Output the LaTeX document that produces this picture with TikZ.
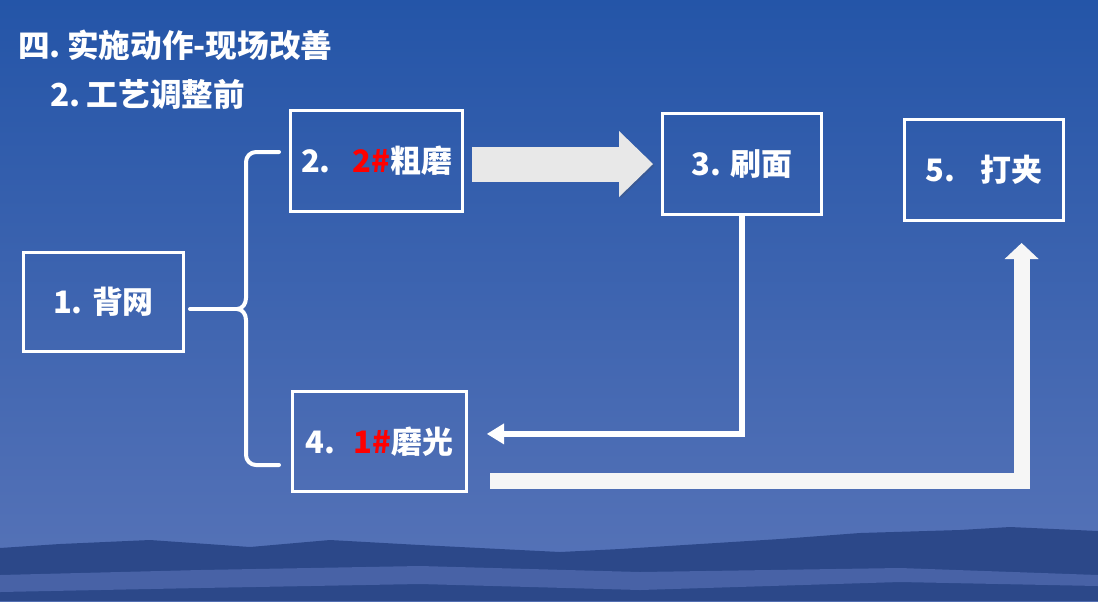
\documentclass[tikz,border=0pt]{standalone}
\usepackage{fontspec}
\setmainfont{Noto Sans CJK SC}
\usetikzlibrary{arrows.meta}
\definecolor{skytop}{HTML}{2455A8}
\definecolor{skymid}{HTML}{386DC2}
\definecolor{skylow}{HTML}{5874B8}
\definecolor{hills}{HTML}{2C4889}
\definecolor{water}{HTML}{4862A6}
\definecolor{arrowgrey}{HTML}{E8E8E8}
\definecolor{barwhite}{HTML}{F6F6F6}
\tikzstyle{stage}=[draw=white, line width=0.75mm, text=white,
font=\bfseries\fontsize{22}{26}\selectfont]
\tikzstyle{heading}=[anchor=west, inner sep=0pt, text=white,
font=\bfseries\fontsize{22.5}{26}\selectfont]

\begin{document}
\begin{tikzpicture}
	[x=0.25mm, y=-0.25mm,
	brace/.style = {draw=white, line width=1mm, line join=round, line cap=round},
	flow/.style = {draw=white, line width=1.5mm, -{Triangle[length=4.25mm,width=5.25mm,line width=0pt]}},
	bigflow/.style = {draw=barwhite, line width=4mm, -{Triangle[length=4mm,width=8.5mm,line width=0pt]}},
	blockarrow/.style = {draw=arrowgrey, line width=8.75mm, -{Triangle[length=8.5mm,width=16.5mm,line width=0pt]}}]
	% background
	\shade[top color=skytop, middle color=skymid, bottom color=skylow] (0,0) rectangle (1098,601);
	\fill[hills] (0,601) -- (0,548) -- (60,544) -- (150,540) -- (250,547) -- (330,540) -- (420,545)
	  -- (500,549) -- (560,552) -- (620,549) -- (700,544) -- (780,539) -- (860,533) -- (960,530)
	  -- (1010,527) -- (1098,531) -- (1098,601) -- cycle;
	\fill[water] (0,575) -- (200,570) -- (420,566) -- (640,572) -- (900,568) -- (1098,575)
	  -- (1098,586) -- (900,582) -- (640,590) -- (420,584) -- (200,588) -- (0,592) -- cycle;
	\useasboundingbox (0,0) rectangle (1098,601);

	\node[heading] (t1) at (18,45) {四.\hspace{0.2em}实施动作-现场改善};
	\node[heading] (t2) at (50,94) {2.\hspace{0.2em}工艺调整前};

	\node[stage, minimum width=40mm, minimum height=24.75mm] (1) at (103.5,302) {1.\hspace{0.3em}背网};
	\node[stage, minimum width=43mm, minimum height=25.25mm] (2) at (376.5,161) {2.\hspace{0.7em}\textcolor{red}{2\#}粗磨};
	\node[stage, minimum width=39.75mm, minimum height=25.25mm] (3) at (742,164) {3.\hspace{0.3em}刷面};
	\node[stage, minimum width=43.5mm, minimum height=25mm] (4) at (379.5,441.5) {4.\hspace{0.6em}\textcolor{red}{1\#}磨光};
	\node[stage, minimum width=39.75mm, minimum height=25.25mm] (5) at (984,170) {5.\hspace{0.8em}打夹};

	\coordinate (tip) at (237,309);
	\draw[brace] (279,152) -- (256,152) to[out=180,in=90] (246,162) -- (246,298)
	  to[out=-90,in=0] (tip) to[out=0,in=90] (246,320) -- (246,455) to[out=-90,in=180] (256,465) -- (279,465);
	\draw[brace] ([xshift=1.25mm]1.east |- tip) -- (tip);

	\draw[blockarrow, preaction={draw=black!70, opacity=0.25, transform canvas={shift={(0.4mm,-0.4mm)}}}]
	  ([xshift=2mm]2.east |- 3.west) -- ([xshift=-2mm]3.west);
	\draw[flow] (3.south) |- ([xshift=4.75mm,yshift=1.9mm]4.east);
	\draw[bigflow] ([xshift=5.5mm,yshift=3mm]4.south east) -| ([xshift=9.4mm,yshift=-5.25mm]5.south);
\end{tikzpicture}
\end{document}
